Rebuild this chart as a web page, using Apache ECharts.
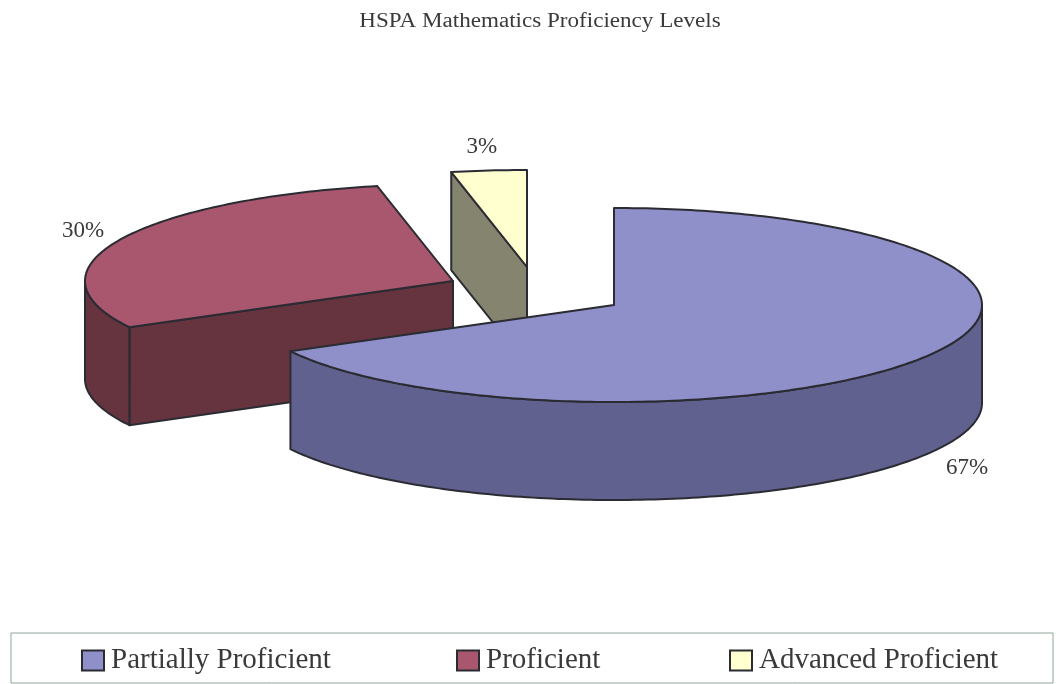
<!DOCTYPE html>
<html>
<head>
<meta charset="utf-8">
<title>HSPA Mathematics Proficiency Levels</title>
<script src="https://cdn.jsdelivr.net/npm/echarts@6/dist/echarts.min.js"></script>
<style>
    html, body { margin: 0; padding: 0; background: #fff; }
    #main { width: 1063px; height: 684px; }
</style>
</head>
<body>
<div id="main"></div>
<script>
    var chartTitle = 'HSPA Mathematics Proficiency Levels';
    var categories = ['Partially Proficient', 'Proficient', 'Advanced Proficient'];
    var percents = [67.1, 29.6, 3.3];

    var serif = '"Liberation Serif", "Times New Roman", serif';
    var textColor = '#3a3a3a';
    var edgeColor = '#2b2b33';

    var topColors = ['#8f8fc9', '#a9566f', '#ffffcf'];
    var sideColors = ['#61618f', '#66343f', '#85856f'];

    /* ------ pie layout: ellipse, exploded apex of each slice ------ */
    var rx = 368, ry = 97, depth = 98;
    var apexes = [[614, 305], [453, 281], [527, 267]];
    var labelOffsets = [[37, 113], [-36, -9], [-7, -24]];
    var legendLeft = [81, 456, 729];

    var total = percents.reduce(function (a, b) { return a + b; }, 0);

    function toRad(deg) {
        return deg * Math.PI / 180;
    }

    // angles are clockwise from 12 o'clock
    function rimPoint(apex, deg, drop) {
        return [apex[0] + rx * Math.sin(toRad(deg)), apex[1] - ry * Math.cos(toRad(deg)) + drop];
    }

    function arcPoints(apex, from, to, drop) {
        var pts = [];
        var steps = Math.max(1, Math.ceil(Math.abs(to - from)));
        for (var i = 0; i <= steps; i++) {
            pts.push(rimPoint(apex, from + (to - from) * i / steps, drop));
        }
        return pts;
    }

    function face(points, color) {
        return {
            type: 'polygon',
            shape: { points: points },
            style: { fill: color, stroke: edgeColor, lineWidth: 2, lineJoin: 'round' },
            silent: true
        };
    }

    function cutFace(apex, deg, color) {
        var p = rimPoint(apex, deg, 0);
        return face([apex, p, [p[0], p[1] + depth], [apex[0], apex[1] + depth]], color);
    }

    function makeRenderItem(index) {
        return function (params, api) {
            var value = api.value(0);
            var before = 0;
            for (var i = 0; i < index; i++) before += percents[i];
            var a0 = before / total * 360;
            var a1 = a0 + value / total * 360;
            var apex = apexes[index];
            var children = [];

            // cut faces only show when they turn towards the viewer
            if (Math.cos(toRad(a0 - 90)) < 0) children.push(cutFace(apex, a0, sideColors[index]));
            if (Math.cos(toRad(a1 + 90)) < 0) children.push(cutFace(apex, a1, sideColors[index]));

            // front rim is the part of the arc between 3 and 9 o'clock
            var r0 = Math.max(a0, 90), r1 = Math.min(a1, 270);
            if (r1 > r0) {
                var upper = arcPoints(apex, r0, r1, 0);
                var lower = arcPoints(apex, r1, r0, depth);
                children.push(face(upper.concat(lower), sideColors[index]));
            }

            children.push(face([apex].concat(arcPoints(apex, a0, a1, 0)), topColors[index]));

            var mid = rimPoint(apex, (a0 + a1) / 2, 0);
            children.push({
                type: 'text',
                silent: true,
                style: {
                    text: Math.round(value) + '%',
                    x: mid[0] + labelOffsets[index][0],
                    y: mid[1] + labelOffsets[index][1],
                    textAlign: 'center',
                    textVerticalAlign: 'middle',
                    fontFamily: serif,
                    fontSize: 23,
                    fill: textColor
                }
            });
            return { type: 'group', children: children };
        };
    }

    var seriesList = [];
    var legendList = [];
    // painted back to front, the big slice goes last
    [2, 1, 0].forEach(function (i) {
        seriesList.push({
            type: 'custom',
            name: categories[i],
            coordinateSystem: 'none',
            data: [[percents[i]]],
            itemStyle: { color: topColors[i] },
            renderItem: makeRenderItem(i)
        });
    });
    categories.forEach(function (name, i) {
        legendList.push({
            data: [name],
            left: legendLeft[i],
            top: 646,
            padding: 0,
            icon: 'rect',
            itemWidth: 22,
            itemHeight: 20,
            selectedMode: false,
            itemStyle: { borderColor: edgeColor, borderWidth: 2 },
            textStyle: { fontFamily: serif, fontSize: 29, color: textColor, padding: [0, 0, 0, 2] }
        });
    });

    var chart = echarts.init(document.getElementById('main'));
    chart.setOption({
        animation: false,
        backgroundColor: '#fff',
        legend: legendList,
        graphic: [{
            // the scan is stretched sideways, so the title is too
            type: 'text',
            silent: true,
            x: 540,
            y: 22,
            scaleX: 1.154,
            style: {
                text: chartTitle,
                textAlign: 'center',
                textVerticalAlign: 'middle',
                fontFamily: serif,
                fontSize: 20,
                fill: textColor
            }
        }, {
            type: 'rect',
            silent: true,
            shape: { x: 11, y: 633, width: 1042, height: 50 },
            style: { fill: 'none', stroke: '#8fa598', lineWidth: 1 }
        }],
        series: seriesList
    });
</script>
</body>
</html>
